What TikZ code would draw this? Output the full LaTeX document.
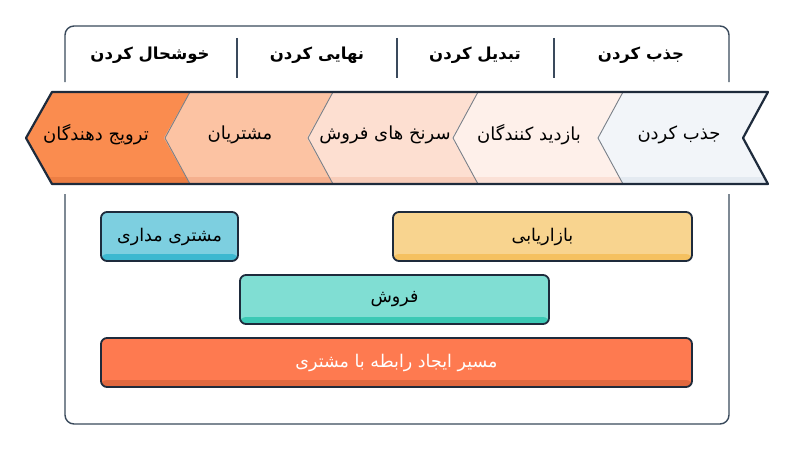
\documentclass[tikz,border=0pt]{standalone}
\usepackage{fontspec}
\TeXXeTstate=1
\newfontfamily\fa[Script=Arabic]{DejaVu Sans}
\definecolor{navy}{HTML}{1E2B3C}
\definecolor{framec}{HTML}{3A4A5C}
\definecolor{sepc}{HTML}{7A7F87}
\definecolor{segA}{HTML}{FA8C4F}\definecolor{segAd}{HTML}{EC7E44}
\definecolor{segB}{HTML}{FCC3A3}\definecolor{segBd}{HTML}{F5B08E}
\definecolor{segC}{HTML}{FDDFD1}\definecolor{segCd}{HTML}{F8CDBA}
\definecolor{segD}{HTML}{FEF0EA}\definecolor{segDd}{HTML}{FBE1D7}
\definecolor{segE}{HTML}{F2F5F9}\definecolor{segEd}{HTML}{E4EAF1}
\definecolor{blueA}{HTML}{7DCFE0}\definecolor{blueAd}{HTML}{3CB8D0}
\definecolor{yelA}{HTML}{F8D48F}\definecolor{yelAd}{HTML}{F5C160}
\definecolor{tealA}{HTML}{80DED3}\definecolor{tealAd}{HTML}{3CC9B5}
\definecolor{redA}{HTML}{FE7A50}\definecolor{redAd}{HTML}{E0683F}
\tikzset{
  framepath/.style={draw=framec, line width=1.4pt, rounded corners=9pt},
  divider/.style={draw=framec, line width=1.6pt},
  headtxt/.style={font=\fa\bfseries\fontsize{16.5}{19}\selectfont, text=black, inner sep=0pt},
  segtxt/.style={font=\fa\fontsize{18}{21}\selectfont, text=black, inner sep=0pt},
  bar/.style 2 args={draw=navy, line width=1.8pt, rounded corners=6pt, fill=#1,
    inner sep=0pt, font=\fa\fontsize{17.5}{20}\selectfont,
    path picture={\fill[#2] ([yshift=7pt]path picture bounding box.south west) rectangle (path picture bounding box.south east);}},
}
\begin{document}
\begin{tikzpicture}[x=1pt,y=-1pt]
\useasboundingbox (0,0) rectangle (800,452);
\fill[white] (0,0) rectangle (800,452);
% frame
\draw[framepath] (65,82) -- (65,26) -- (729,26) -- (729,82);
\draw[framepath] (65,194) -- (65,424) -- (729,424) -- (729,194);
% header dividers
\foreach \x in {237,397,554} \draw[divider] (\x,38) -- (\x,78);
\node[headtxt] (h1) at (150,55) {\beginR خوشحال کردن\endR};
\node[headtxt] (h2) at (317,55) {\beginR نهایی کردن\endR};
\node[headtxt] (h3) at (475,55) {\beginR تبدیل کردن\endR};
\node[headtxt] (h4) at (641,55) {\beginR جذب کردن\endR};
% chevron band
\foreach \L/\R/\c/\s in {52/190/segA/segAd, 190/333/segB/segBd, 333/478/segC/segCd, 478/623/segD/segDd, 623/768/segE/segEd}{
  \begin{scope}
    \clip (\L,92) -- (\L-26,138) -- (\L,184) -- (\R,184) -- (\R-25,138) -- (\R,92) -- cycle;
    \fill[\c] (\L-30,90) rectangle (\R+2,186);
    \fill[\s] (\L-30,177) rectangle (\R+2,186);
  \end{scope}
}
\foreach \R in {190,333,478,623} \draw[sepc, line width=0.9pt] (\R,92) -- (\R-25,138) -- (\R,184);
\draw[navy, line width=2.2pt, line join=round] (52,92) -- (26,138) -- (52,184) -- (768,184) -- (743,138) -- (768,92) -- cycle;
\node[segtxt] (s1) at (96,135) {\beginR ترویج دهندگان\endR};
\node[segtxt] (s2) at (240,135) {\beginR مشتریان\endR};
\node[segtxt] (s3) at (385,135) {\beginR سرنخ های فروش\endR};
\node[segtxt] (s4) at (529,135) {\beginR بازدید کنندگان\endR};
\node[segtxt] (s5) at (679,135) {\beginR جذب کردن\endR};
% bars
\node[bar={blueA}{blueAd}, minimum width=137pt, minimum height=49pt] (b1) at (169.5,236.5) {\beginR مشتری مداری\endR};
\node[bar={yelA}{yelAd}, minimum width=299pt, minimum height=49pt] (b2) at (542.5,236.5) {\beginR بازاریابی\endR};
\node[bar={tealA}{tealAd}, minimum width=309pt, minimum height=49pt] (b3) at (394.5,299.5) {\beginR فروش\endR};
\node[bar={redA}{redAd}, minimum width=591pt, minimum height=49pt, text=white] (b4) at (396.5,362.5) {\beginR مسیر ایجاد رابطه با مشتری\endR};
\end{tikzpicture}
\end{document}
